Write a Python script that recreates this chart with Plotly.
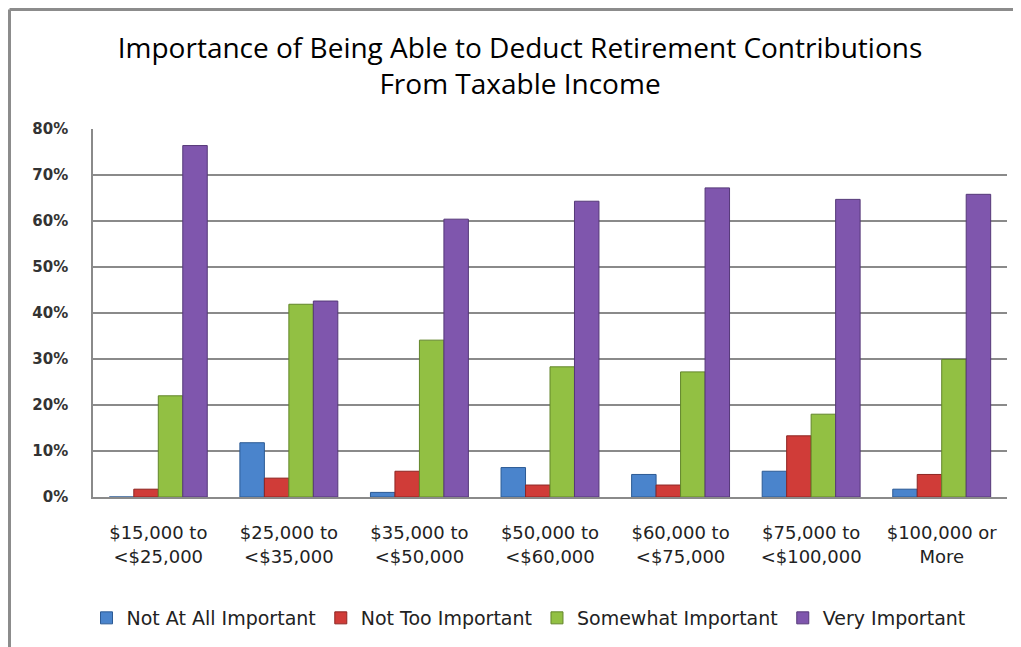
import plotly.graph_objects as go

categories = ["$15,000 to<br><$25,000", "$25,000 to<br><$35,000", "$35,000 to<br><$50,000",
              "$50,000 to<br><$60,000", "$60,000 to<br><$75,000", "$75,000 to<br><$100,000",
              "$100,000 or<br>More"]
not_at_all = [0.0, 11.8, 1.0, 6.4, 4.9, 5.6, 1.7]
not_too = [1.7, 4.1, 5.6, 2.6, 2.6, 13.3, 4.9]
somewhat = [22.0, 41.9, 34.1, 28.3, 27.2, 18.0, 29.9]
very = [76.4, 42.6, 60.4, 64.3, 67.2, 64.7, 65.8]
series_names = ["Not At All Important", "Not Too Important", "Somewhat Important", "Very Important"]
colors = ["#4a84cc", "#d03c38", "#92c043", "#7f56ad"]
line_colors = ["#2c5a94", "#8e2522", "#62852a", "#553878"]
y_ticks = [0, 10, 20, 30, 40, 50, 60, 70, 80]

W, H = 1013, 639
L, R, T, B = 85, 14, 121, 150
PW, PH = W - L - R, H - T - B

fig = go.Figure()
for name, vals, c, lc in zip(series_names, [not_at_all, not_too, somewhat, very], colors, line_colors):
    fig.add_trace(go.Bar(x=categories, y=[v / 100 for v in vals], name=name,
                         marker=dict(color=c, line=dict(color=lc, width=1))))

fig.update_layout(
    width=W, height=H,
    margin=dict(l=L, r=R, t=T, b=B, autoexpand=False),
    paper_bgcolor="white", plot_bgcolor="white",
    barmode="group", bargap=0.25, bargroupgap=0.0,
    title=dict(text="Importance of Being Able to Deduct Retirement Contributions<br>From Taxable Income",
               x=(520 - 8) / W, xanchor="center", y=1 - 49.5 / H, yanchor="middle",
               font=dict(family="Open Sans, sans-serif", size=28, color="#000000")),
    font=dict(family="DejaVu Sans", color="#222222"),
    legend=dict(orientation="h", x=(520.5 - L) / PW, xanchor="center", y=-121 / PH, yanchor="middle",
                font=dict(family="DejaVu Sans", size=19, color="#222222"),
                traceorder="normal", itemwidth=30),
    showlegend=True,
)
fig.update_yaxes(range=[0, 0.8], tickvals=[t / 100 for t in y_ticks],
                 ticktext=[f"{t}%" for t in y_ticks],
                 showgrid=True, gridcolor="#8a8a8a", gridwidth=1.5,
                 showline=True, linecolor="#8a8a8a", linewidth=1.5,
                 ticks="", ticklabelstandoff=20,
                 tickfont=dict(family="DejaVu Sans", size=15, color="#333333", weight="bold"),
                 zeroline=False)
fig.update_xaxes(showline=True, linecolor="#8a8a8a", linewidth=1.5, showgrid=False,
                 ticklabelstandoff=19,
                 tickfont=dict(family="DejaVu Sans", size=18, color="#222222"), ticks="")

# outer chart frame (top and left edges)
fx = (1.5 - L) / PW
fy = 1 + (T - 1.5) / PH
fig.add_shape(type="line", xref="paper", yref="paper", x0=fx, x1=1.05, y0=fy, y1=fy,
              line=dict(color="#8c8c8c", width=3))
fig.add_shape(type="line", xref="paper", yref="paper", x0=fx, x1=fx, y0=fy, y1=-B / PH - 0.05,
              line=dict(color="#8c8c8c", width=3))

fig.write_html("out.html")
